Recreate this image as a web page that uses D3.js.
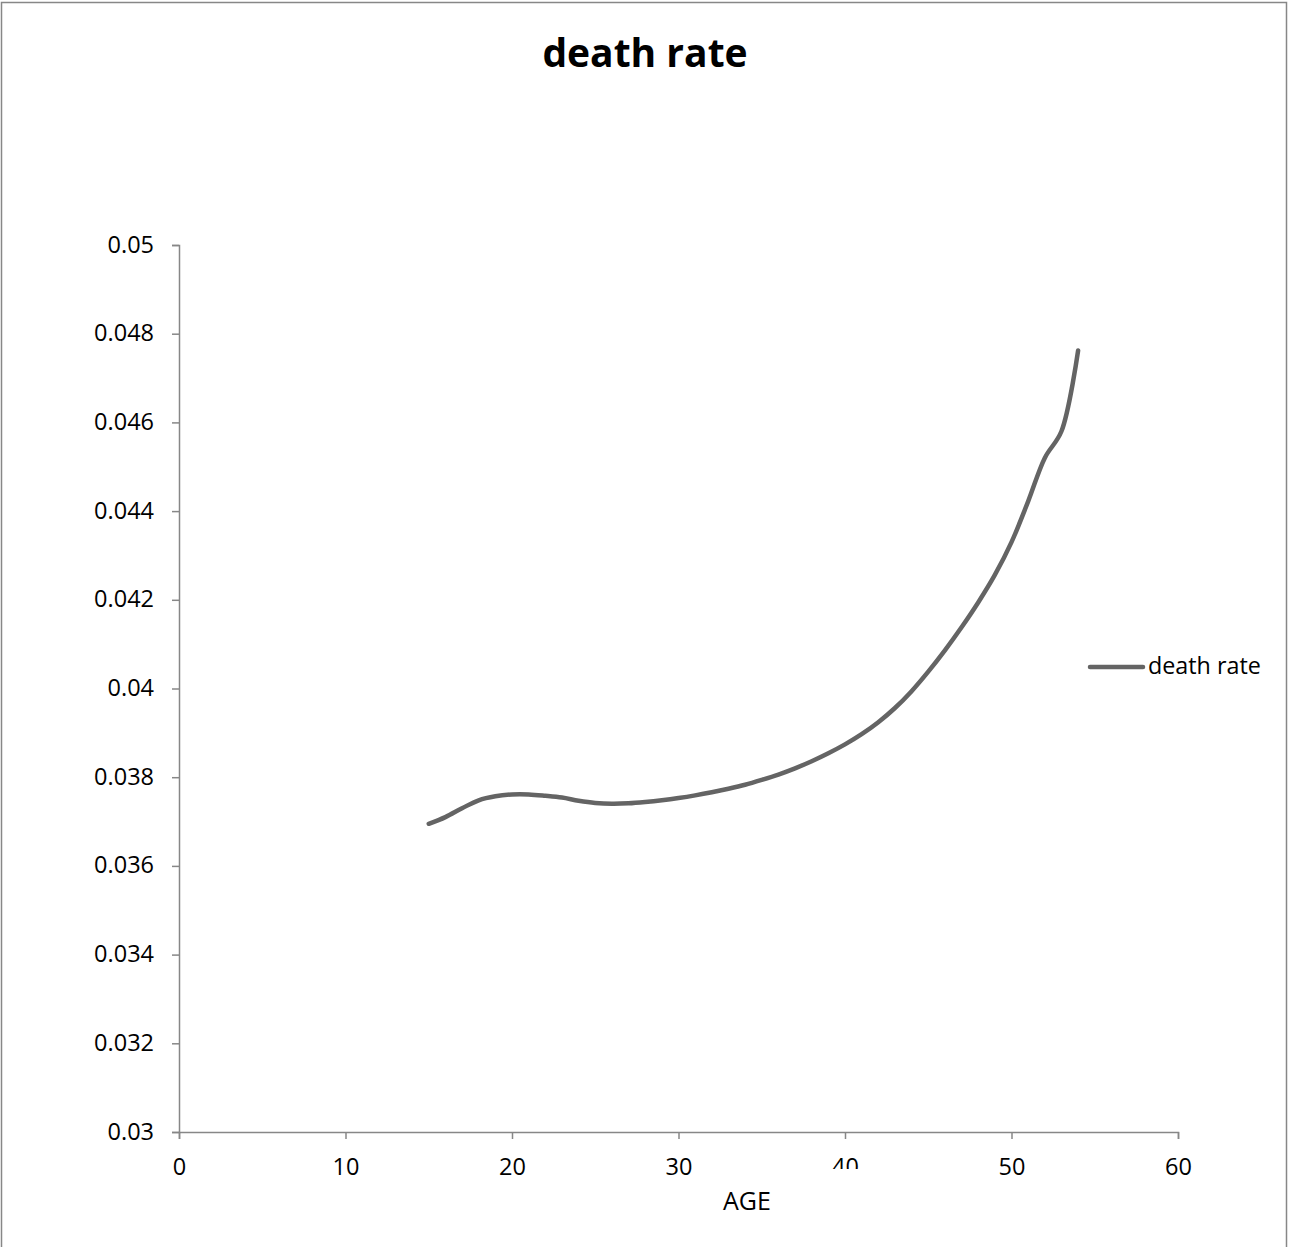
<!DOCTYPE html>
<html>
<head>
  <meta charset="utf-8">
  <title>death rate</title>
  <script src="https://d3js.org/d3.v7.min.js"></script>
  <style type="text/css">
    body { margin: 0; background: #fff; }
    svg text { font-family: "Open Sans", "Noto Sans", sans-serif; fill: #000; }
  </style>
</head>
<body>
  <div id="chart"></div>
<script type="text/javascript">
  // ages and death rate
  const ages = [15, 16, 17, 18, 19, 20, 21, 22, 23, 24, 25, 26, 27, 28, 29, 30, 31, 32, 33, 34,
                35, 36, 37, 38, 39, 40, 41, 42, 43, 44, 45, 46, 47, 48, 49, 50, 51, 52, 53, 54];
  const deathRate = [0.03695, 0.03710, 0.03730, 0.03748, 0.03757, 0.03761, 0.03761, 0.03758, 0.03754, 0.03747,
                     0.03742, 0.03740, 0.03741, 0.03744, 0.03748, 0.03753, 0.03759, 0.03766, 0.03774, 0.03783,
                     0.03794, 0.03806, 0.03820, 0.03836, 0.03854, 0.03874, 0.03897, 0.03924, 0.03956, 0.03994,
                     0.04038, 0.04086, 0.04138, 0.04194, 0.04256, 0.04330, 0.04422, 0.04520, 0.04580, 0.04762];
  const xTicks = [0, 10, 20, 30, 40, 50, 60];
  const yTicks = [0.03, 0.032, 0.034, 0.036, 0.038, 0.04, 0.042, 0.044, 0.046, 0.048, 0.05];

  const width = 1289, height = 1247;
  const plot = { left: 179, right: 1178, top: 245, bottom: 1132 };
  const axisColor = '#878787';
  const lineColor = '#646464';
  const font = '"Open Sans", "Noto Sans", sans-serif';

  const svg = d3.select('#chart').append('svg')
    .attr('width', width)
    .attr('height', height);

  // chart frame
  svg.append('rect')
    .attr('x', 1.5).attr('y', 2.5)
    .attr('width', 1285).attr('height', 1260)
    .attr('fill', 'none')
    .attr('stroke', axisColor)
    .attr('stroke-width', 1.5);

  const x = d3.scaleLinear().domain([0, 60]).range([plot.left, plot.right]);
  const y = d3.scaleLinear().domain([0.03, 0.05]).range([plot.bottom, plot.top]);

  const xAxis = svg.append('g')
    .attr('transform', `translate(0,${plot.bottom})`)
    .call(d3.axisBottom(x).tickValues(xTicks).tickSize(7).tickPadding(19).tickFormat(d3.format('d')));
  const yAxis = svg.append('g')
    .attr('transform', `translate(${plot.left},0)`)
    .call(d3.axisLeft(y).tickValues(yTicks).tickSize(7).tickPadding(18).tickFormat(d => String(+d.toFixed(3))));

  [xAxis, yAxis].forEach(g => {
    g.select('.domain').attr('stroke', axisColor).attr('stroke-width', 1.5);
    g.selectAll('.tick line').attr('stroke', axisColor).attr('stroke-width', 1.5);
    g.selectAll('.tick text')
      .attr('font-size', 23.5)
      .style('font-family', font)
      .attr('fill', '#000');
  });
  yAxis.selectAll('.tick text').attr('dy', '0.3em');

  const line = d3.line()
    .x((d, i) => x(ages[i]))
    .y(d => y(d))
    .curve(d3.curveCatmullRom.alpha(0.5));

  svg.append('path')
    .datum(deathRate)
    .attr('d', line)
    .attr('fill', 'none')
    .attr('stroke', lineColor)
    .attr('stroke-width', 4.5)
    .attr('stroke-linecap', 'round')
    .attr('stroke-linejoin', 'round');

  // title
  svg.append('text')
    .attr('x', 645).attr('y', 67)
    .attr('text-anchor', 'middle')
    .attr('font-size', 39)
    .attr('font-weight', 'bold')
    .text('death rate');

  // x axis title, its white box covers the lower part of the "40" label
  svg.append('rect')
    .attr('x', 700).attr('y', 1169)
    .attr('width', 162).attr('height', 48)
    .attr('fill', '#fff');
  svg.append('text')
    .attr('x', 747).attr('y', 1210)
    .attr('text-anchor', 'middle')
    .attr('font-size', 25)
    .text('AGE');

  // legend
  const legend = svg.append('g').attr('transform', 'translate(1090,667)');
  legend.append('line')
    .attr('x1', 0).attr('x2', 53)
    .attr('y1', 0).attr('y2', 0)
    .attr('stroke', lineColor)
    .attr('stroke-width', 4.5)
    .attr('stroke-linecap', 'round');
  legend.append('text')
    .attr('x', 58).attr('y', 7)
    .attr('font-size', 23.3)
    .text('death rate');
</script>
</body>
</html>
